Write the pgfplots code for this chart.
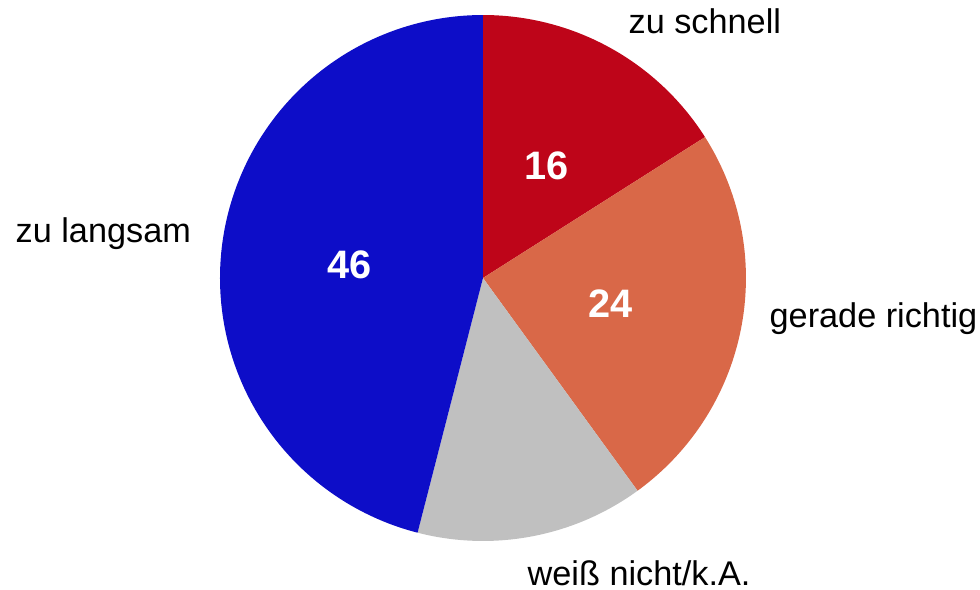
\documentclass[border=0pt]{standalone}
\usepackage{fontspec}
\setmainfont{Liberation Sans}
\usepackage{pgfplots}
\pgfplotsset{compat=1.18}
\usepackage{pgfplotstable}
\definecolor{cRed}{HTML}{BE0519}
\definecolor{cOrange}{HTML}{D96848}
\definecolor{cGray}{HTML}{C0C0C0}
\definecolor{cBlue}{HTML}{0D0DC8}
% values in percent, clockwise from 12 o'clock
\pgfplotstableread{
label value
schnell 16
richtig 24
weiss 14
langsam 46
}\piedata
\pgfplotstablegetelem{0}{value}\of\piedata \let\vA\pgfplotsretval
\pgfplotstablegetelem{1}{value}\of\piedata \let\vB\pgfplotsretval
\pgfplotstablegetelem{2}{value}\of\piedata \let\vC\pgfplotsretval
\pgfplotstablegetelem{3}{value}\of\piedata \let\vD\pgfplotsretval
\pgfmathsetmacro\aA{90}
\pgfmathsetmacro\aB{\aA-3.6*\vA}
\pgfmathsetmacro\aC{\aB-3.6*\vB}
\pgfmathsetmacro\aD{\aC-3.6*\vC}
\pgfmathsetmacro\aE{\aD-3.6*\vD}
\begin{document}
\begin{tikzpicture}
\begin{axis}[
  scale only axis, width=9.8cm, height=5.9cm,
  xmin=0, xmax=980, ymin=-590, ymax=0,
  hide axis, clip=false,
  font=\fontsize{9.75pt}{11pt}\selectfont,
]
\def\cx{483}\def\cy{-278}\def\R{263}
\addplot[fill=cRed, draw=none, domain=\aB:\aA, samples=80, variable=\t]
  ({\cx+\R*cos(\t)},{\cy+\R*sin(\t)}) -- (axis cs:\cx,\cy) -- cycle;
\addplot[fill=cOrange, draw=none, domain=\aC:\aB, samples=80, variable=\t]
  ({\cx+\R*cos(\t)},{\cy+\R*sin(\t)}) -- (axis cs:\cx,\cy) -- cycle;
\addplot[fill=cGray, draw=none, domain=\aD:\aC, samples=80, variable=\t]
  ({\cx+\R*cos(\t)},{\cy+\R*sin(\t)}) -- (axis cs:\cx,\cy) -- cycle;
\addplot[fill=cBlue, draw=none, domain=\aE:\aD, samples=150, variable=\t]
  ({\cx+\R*cos(\t)},{\cy+\R*sin(\t)}) -- (axis cs:\cx,\cy) -- cycle;
% value labels
\node[text=white, font=\fontsize{11.3pt}{13pt}\selectfont\bfseries] at (axis cs:547,-166) {16};
\node[text=white, font=\fontsize{11.3pt}{13pt}\selectfont\bfseries] at (axis cs:611,-304) {24};
\node[text=white, font=\fontsize{11.3pt}{13pt}\selectfont\bfseries] at (axis cs:350,-265) {46};
% category labels
\node[anchor=base west, inner sep=0pt] at (axis cs:628,-33) {zu schnell};
\node[anchor=base west, inner sep=0pt] at (axis cs:769,-328) {gerade richtig};
\node[anchor=base west, inner sep=0pt] at (axis cs:527,-586) {weiß nicht/k.A.};
\node[anchor=base west, inner sep=0pt] at (axis cs:15,-243) {zu langsam};
\end{axis}
\pgfresetboundingbox
\path (0,0) rectangle (9.8cm,5.9cm);
\end{tikzpicture}
\end{document}
